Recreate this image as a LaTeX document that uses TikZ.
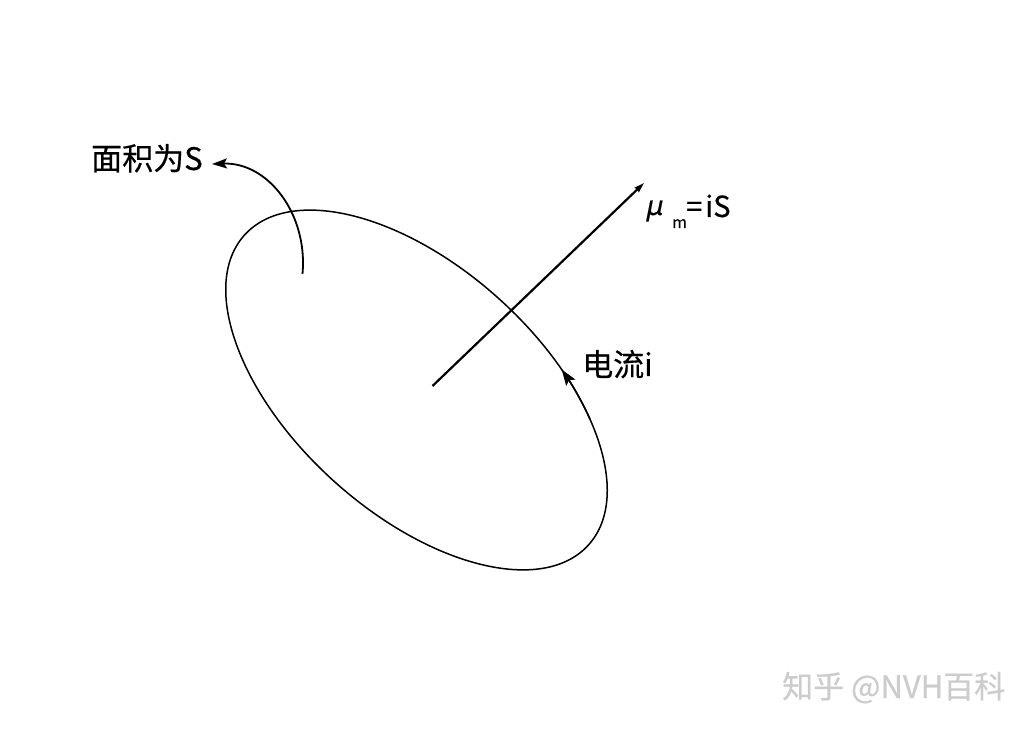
\documentclass[tikz,border=0pt]{standalone}
\usepackage{fontspec}
\setmainfont[FakeBold=0.5]{Noto Sans CJK SC}
\newfontfamily\mufont[FakeSlant=0.2,FakeBold=0.5]{Noto Sans}
\usetikzlibrary{arrows.meta}
\begin{document}
\begin{tikzpicture}[x=1pt,y=1pt,
  lbl/.style={inner sep=0pt,anchor=base west,font=\fontsize{31}{33}\selectfont},
  loopline/.style={line width=1.5pt},
  axisline/.style={line width=2.2pt,-{Stealth[length=10pt,width=6pt,inset=1pt]}},
  areaarrow/.style={line width=1.8pt,-{Stealth[length=15pt,width=10pt,inset=3pt]}},
  flowarrow/.style={line width=1.5pt,-{Stealth[length=16pt,width=11pt,inset=3pt]}}]
\useasboundingbox[fill=white] (0,0) rectangle (1033,731);
% current loop
\coordinate (c) at (416.5,341);
\begin{scope}[shift={(c)},rotate=-42]
  \draw[loopline] (0,0) ellipse [x radius=231.5, y radius=123];
  \draw[flowarrow] (50:231.5 and 123) arc[start angle=50, end angle=66, x radius=231.5, y radius=123];
\end{scope}
% magnetic moment axis
\coordinate (mu0) at (432.5,345);
\coordinate (mu1) at (644,548);
\draw[axisline] (mu0) -- (mu1);
% area arrow
\coordinate (s0) at (302.5,457);
\coordinate (s1) at (212,567);
\draw[areaarrow] (s0) .. controls (308,517) and (268,569) .. (s1);
% labels
\node[lbl] (area) at (91,561) {面积为S};
\node[lbl] (cur) at (582,355) {电流i};
\node[lbl,font=\fontsize{27}{29}\selectfont] (mu) at (645,516) {\mufont μ};
\node[lbl,font=\fontsize{16}{18}\selectfont] (sub) at (672,503) {m};
\node[lbl,font=\fontsize{29}{31}\selectfont] (eq) at (686,514) {=\hspace{3pt}iS};
\node[lbl,text=black!20,font=\fontsize{31}{33}\selectfont] (wm) at (782,33) {知乎 @NVH百科};
\end{tikzpicture}
\end{document}
